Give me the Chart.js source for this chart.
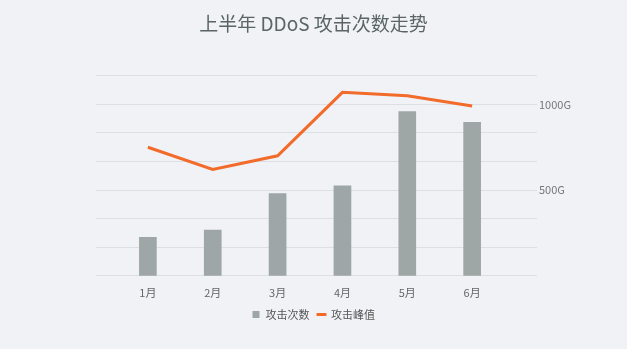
<!DOCTYPE html>
<html>
<head>
<meta charset="utf-8">
<script src="https://cdn.jsdelivr.net/npm/chart.js@4"></script>
<style>
  html, body { margin: 0; padding: 0; background: #f0f2f6; }
  #wrap { width: 627px; height: 349px; }
</style>
</head>
<body>
<div id="wrap"><canvas id="c" width="627" height="349"></canvas></div>
<script>
const months = ["1月", "2月", "3月", "4月", "5月", "6月"];
const attackCounts = [270, 320, 575, 630, 1150, 1075];
const attackPeaks = [750, 620, 700, 1070, 1050, 990];
const peakTicks = [0, 500 / 3, 1000 / 3, 500, 2000 / 3, 2500 / 3, 1000, 3500 / 3];
const peakLabels = { 500: "500G", 1000: "1000G" };

const fontFamily = "'Noto Sans CJK SC', 'Noto Sans', sans-serif";

new Chart(document.getElementById("c"), {
    data: {
        datasets: [
            {
                type: "bar",
                label: "攻击次数",
                data: attackCounts.map((v, i) => ({ x: i, y: v })),
                backgroundColor: "#9ea6a6",
                barThickness: 17,
                yAxisID: "yCount",
                order: 2
            },
            {
                type: "line",
                label: "攻击峰值",
                data: attackPeaks.map((v, i) => ({ x: i, y: v })),
                borderColor: "#f26b2a",
                backgroundColor: "#f26b2a",
                borderWidth: 3,
                pointRadius: 0,
                tension: 0,
                yAxisID: "yPeak",
                order: 1
            }
        ]
    },
    options: {
        responsive: false,
        animation: false,
        layout: { padding: { left: 0, right: 0, top: 0, bottom: 19 } },
        plugins: {
            title: {
                display: true,
                text: "上半年 DDoS 攻击次数走势",
                color: "#5c6565",
                font: { family: fontFamily, size: 19, weight: "normal" },
                padding: { top: 12, bottom: 41 }
            },
            legend: {
                position: "bottom",
                labels: {
                    color: "#555",
                    font: { family: fontFamily, size: 11 },
                    usePointStyle: true,
                    boxWidth: 8,
                    boxHeight: 7,
                    padding: 8,
                    generateLabels(chart) {
                        return chart.data.datasets.map((ds, i) => ({
                            text: ds.label,
                            fillStyle: ds.type === "bar" ? ds.backgroundColor : ds.borderColor,
                            strokeStyle: ds.type === "bar" ? ds.backgroundColor : ds.borderColor,
                            lineWidth: ds.type === "bar" ? 0 : 3,
                            pointStyle: ds.type === "bar" ? "rect" : "line",
                            datasetIndex: i,
                            fontColor: "#555"
                        }));
                    }
                }
            },
            tooltip: { enabled: false }
        },
        scales: {
            x: {
                type: "linear",
                offset: false,
                min: -0.8,
                max: 6.0,
                grid: { display: false },
                border: { display: false },
                afterBuildTicks(scale) {
                    scale.ticks = months.map((m, i) => ({ value: i }));
                },
                afterFit(scale) {
                    scale.paddingLeft = 0;
                    scale.paddingRight = 0;
                },
                ticks: {
                    color: "#666",
                    font: { family: fontFamily, size: 11 },
                    padding: 2,
                    maxRotation: 0,
                    autoSkip: false,
                    callback: (v) => months[v]
                }
            },
            yCount: {
                position: "left",
                min: 0,
                max: 1400,
                grid: { display: false },
                border: { display: false },
                ticks: { display: false },
                afterFit(scale) {
                    scale.width = 96;
                }
            },
            yPeak: {
                position: "right",
                min: 0,
                max: 3500 / 3,
                border: { display: false },
                grid: { color: "#dcdfe4", drawTicks: false, lineWidth: 1 },
                afterBuildTicks(scale) {
                    scale.ticks = peakTicks.map(v => ({ value: v }));
                },
                afterFit(scale) {
                    scale.width = 90;
                },
                ticks: {
                    color: "#777",
                    font: { family: fontFamily, size: 11 },
                    padding: 2,
                    callback: (v) => peakLabels[Math.round(v)] && Math.abs(v - Math.round(v)) < 1e-6 ? peakLabels[Math.round(v)] : ""
                }
            }
        }
    }
});
</script>
</body>
</html>
